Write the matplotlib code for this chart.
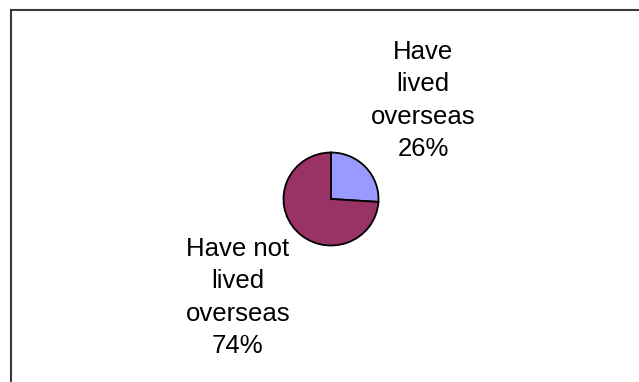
import matplotlib.pyplot as plt
from matplotlib.lines import Line2D

# data
labels = ["Have\nlived\noverseas\n26%", "Have not\nlived\noverseas\n74%"]
shares = [26, 74]
colors = ["#9999FF", "#993366"]

W, H = 639, 382
fig = plt.figure(figsize=(W / 100, H / 100), dpi=100)
ax = fig.add_axes([0, 0, 1, 1])

wedges, texts = ax.pie(shares, labels=labels, colors=colors, startangle=90,
                       counterclock=False, labeldistance=2.88,
                       wedgeprops={"edgecolor": "black", "linewidth": 1.3},
                       textprops={"ha": "center", "va": "center", "fontsize": 18.5,
                                  "family": "Liberation Sans", "linespacing": 1.45})

# excel puts the labels a little off the mid-angle ray
label_pos = [(1.94, 2.12), (-1.96, -2.12)]
for t, p in zip(texts, label_pos):
    t.set_position(p)

# pie centre at pixel (331, 199), radius about 47 px
cx, cy = 331, H - 199
sx, sy = 47.5, 46.5
ax.set_aspect("auto")
ax.set_xlim(-cx / sx, (W - cx) / sx)
ax.set_ylim(-cy / sy, (H - cy) / sy)
ax.axis("off")

# frame (only left and top edges visible in the crop)
x0 = 11 / W
y0 = 1 - 10 / H
fig.add_artist(Line2D([x0, x0], [0, y0], color="#3a3a3a", lw=1.5))
fig.add_artist(Line2D([x0, 1], [y0, y0], color="#3a3a3a", lw=1.5))

fig.savefig("out.png", dpi=100)
